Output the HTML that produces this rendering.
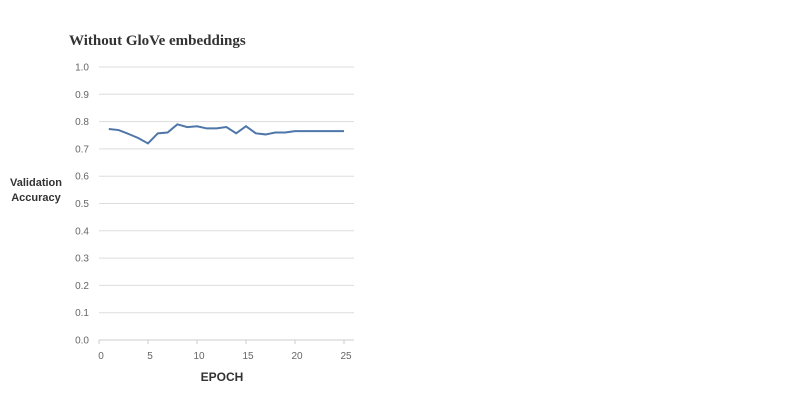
<!DOCTYPE html>
<html><head><meta charset="utf-8"><style>
body{margin:0;background:#fff;width:789px;height:412px;overflow:hidden}
svg{display:block}
.t{font-family:"Liberation Sans",sans-serif;font-size:10px;fill:#666}
</style></head><body>
<svg width="789" height="412">
<text x="69" y="45" font-family="Liberation Serif,serif" font-weight="bold" font-size="15" fill="#333">Without GloVe embeddings</text>
<g id="grid"></g><g id="xt"></g>
<text x="36" y="186" text-anchor="middle" font-family="Liberation Sans,sans-serif" font-weight="bold" font-size="11" fill="#333"><tspan x="36">Validation</tspan><tspan x="36" dy="15">Accuracy</tspan></text>
<text x="222" y="381" text-anchor="middle" font-family="Liberation Sans,sans-serif" font-weight="bold" font-size="12" fill="#333">EPOCH</text>
<path id="line" fill="none" stroke="#4e76a8" stroke-width="2"/>
</svg>
<script>
const epochs=[1,2,3,4,5,6,7,8,9,10,11,12,13,14,15,16,17,18,19,20,21,22,23,24,25];
const accuracy=[0.773,0.769,0.755,0.74,0.72,0.757,0.76,0.79,0.78,0.783,0.775,0.775,0.78,0.757,0.783,0.757,0.753,0.76,0.76,0.765,0.765,0.765,0.765,0.765,0.765];
const yTicks=[0,0.1,0.2,0.3,0.4,0.5,0.6,0.7,0.8,0.9,1.0];
const xTicks=[0,5,10,15,20,25];
const X=e=>99+9.8*e, Y=v=>340-273*v;
const ns="http://www.w3.org/2000/svg";
const g=document.getElementById('grid'), xt=document.getElementById('xt');
yTicks.forEach(v=>{
 const l=document.createElementNS(ns,'line');
 l.setAttribute('x1',99);l.setAttribute('x2',354);l.setAttribute('y1',Y(v));l.setAttribute('y2',Y(v));
 l.setAttribute('stroke',v===0?'#ccc':'#ddd');l.setAttribute('stroke-width',1);
 
 
 g.appendChild(l);
 const t=document.createElementNS(ns,'text');
 t.setAttribute('x',89);t.setAttribute('y',Y(v)+3.5);t.setAttribute('text-anchor','end');t.setAttribute('class','t');
 t.textContent=v.toFixed(1);
 
 
 g.appendChild(t);
});
xTicks.forEach(e=>{
 const l=document.createElementNS(ns,'line');
 l.setAttribute('x1',X(e));l.setAttribute('x2',X(e));l.setAttribute('y1',340);l.setAttribute('y2',344);l.setAttribute('stroke','#ccc');
 
 
 xt.appendChild(l);
 const t=document.createElementNS(ns,'text');
 t.setAttribute('x',X(e)+2);t.setAttribute('y',359);t.setAttribute('text-anchor','middle');t.setAttribute('class','t');
 t.textContent=e;
 
 
 xt.appendChild(t);
});
document.getElementById('line').setAttribute('d',epochs.map((e,i)=>(i?'L':'M')+X(e)+' '+Y(accuracy[i])).join(' '));
</script>
</body></html>
